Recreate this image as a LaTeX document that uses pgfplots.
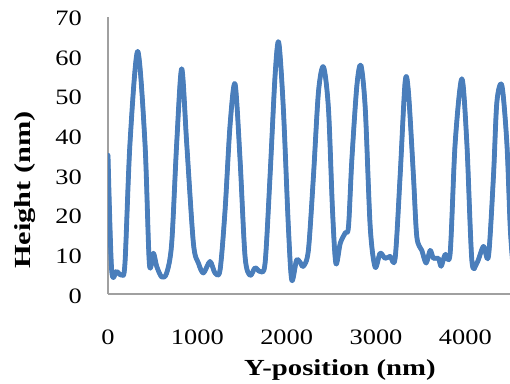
\documentclass[border=0pt]{standalone}
\usepackage{fontspec}
\setmainfont{Liberation Serif}
\usepackage{pgfplots}
\usepackage{pgfplotstable}
\pgfplotsset{compat=1.18}
\definecolor{lineblue}{RGB}{74,126,187}
\definecolor{axgray}{RGB}{160,160,160}
\newcommand{\tl}[1]{\scalebox{1.2}[1]{#1}}
\newcommand{\al}[1]{\scalebox{1.25}[1]{\bfseries #1}}
\pgfplotstableread{
x y
0 35
41 6
97 5.7
153 4.8
190 7.8
246 38
332 61.2
414 38
463 7.7
508 10.3
545 7
601 4.3
657 5.3
713 12.8
769 38
825 56.8
881 38
956 12.8
1012 7.8
1068 5.3
1142 8.2
1198 5.3
1254 6
1310 21
1366 42.5
1422 53
1478 34
1534 9.5
1590 4.7
1646 6.6
1702 5.7
1758 7.7
1814 29.8
1870 55
1911 63.5
1963 46.7
2019 17
2057 3.5
2110 8.5
2150 8
2187 7
2243 11
2300 29.8
2356 51
2412 57.3
2468 46.7
2513 21.2
2551 7.7
2600 12.8
2655 15.4
2692 17
2730 34
2786 52.6
2831 57.7
2880 46.7
2935 17
2990 6.8
3046 10.3
3102 9
3158 9.5
3214 9
3270 29.8
3326 53.5
3363 51
3419 29.8
3457 14.4
3513 11
3561 7.8
3606 11
3643 9
3699 9
3729 7
3774 10
3830 10.3
3886 38
3961 54.3
4017 38
4073 8.5
4129 7.8
4203 12
4259 9.5
4315 29.8
4353 48.4
4409 52.6
4465 38
4502 17
4530 8
}\profile
\begin{document}
\begin{tikzpicture}
\path[use as bounding box] (0pt,0pt) rectangle (510pt,383pt);
\begin{axis}[
  at={(108pt,89pt)}, anchor=origin,
  scale only axis, width=402pt, height=277.5pt,
  xmin=0, xmax=4500, ymin=0, ymax=70,
  axis x line=bottom, axis y line=left,
  axis line style={-, color=axgray, line width=1.2pt},
  major tick length=0pt,
  xtick={0,1000,2000,3000,4000},
  xticklabels={\tl{0},\tl{1000},\tl{2000},\tl{3000},\tl{4000}},
  ytick={0,10,20,30,40,50,60,70},
  yticklabels={\tl{0},\tl{10},\tl{20},\tl{30},\tl{40},\tl{50},\tl{60},\tl{70}},
  tick label style={font=\fontsize{22}{22}\selectfont, inner sep=0pt},
  xticklabel style={anchor=center, yshift=-43pt},
  yticklabel style={anchor=east, xshift=-26pt, yshift=-2pt},
  xlabel={\al{Y-position (nm)}},
  ylabel={\scalebox{1.32}[1]{\bfseries Height (nm)}},
  label style={font=\fontsize{23}{23}\selectfont, inner sep=0pt},
  xlabel style={at={(axis description cs:0.577,-0.274)}, anchor=center},
  ylabel style={at={(axis description cs:-0.2065,0.375)}, anchor=center},
  every axis plot/.append style={color=lineblue, line join=round, line cap=round, smooth},
]
\addplot[line width=4.8pt] table[x=x,y=y] {\profile};
\addplot[line width=4pt] table[x=x,y=y] {\profile};
\addplot[line width=3.2pt] table[x=x,y=y] {\profile};
\addplot[line width=2.4pt] table[x=x,y=y] {\profile};
\addplot[line width=1.6pt] table[x=x,y=y] {\profile};
\addplot[line width=0.8pt] table[x=x,y=y] {\profile};
\end{axis}
\end{tikzpicture}
\end{document}
